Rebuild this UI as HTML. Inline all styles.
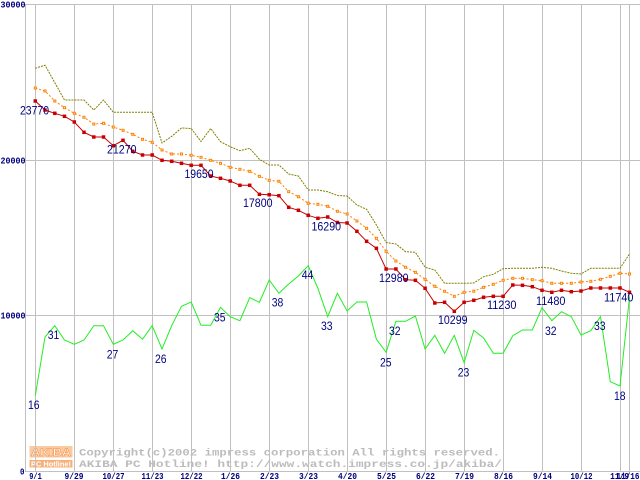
<!DOCTYPE html>
<html><head><meta charset="utf-8"><style>
html,body{margin:0;padding:0;background:#fff;}
svg{display:block;}
</style></head><body>
<svg width="640" height="480" viewBox="0 0 640 480" xmlns="http://www.w3.org/2000/svg">
<defs>
<rect id="rm" x="-1.75" y="-1.75" width="3.5" height="3.5" fill="#c80000"/>
<rect id="om" x="-1" y="-1" width="2" height="2" fill="#fff" stroke="#ff8000" stroke-width="1"/>
</defs>
<rect width="640" height="480" fill="#fff"/>

<!-- logo -->
<rect x="29.5" y="446" width="43" height="11.5" fill="#fccaa0"/>
<text x="31" y="456" font-family="Liberation Sans, sans-serif" font-weight="bold" font-size="11" fill="#fff" stroke="#f5a060" stroke-width="0.7" textLength="40" lengthAdjust="spacingAndGlyphs">AKIBA</text>
<rect x="29.5" y="460" width="43" height="7.5" fill="#f8b07a"/>
<text x="31" y="466.5" font-family="Liberation Sans, sans-serif" font-weight="bold" font-size="7" fill="#fff" textLength="40" lengthAdjust="spacingAndGlyphs">PC Hotline!</text>
<text x="79" y="455.7" font-family="Liberation Mono, monospace" font-weight="bold" font-size="10.5" fill="#bcbcbc" textLength="421" lengthAdjust="spacingAndGlyphs">Copyright(c)2002 impress corporation All rights reserved.</text>
<text x="79" y="467" font-family="Liberation Mono, monospace" font-weight="bold" font-size="10.5" fill="#bcbcbc" textLength="423" lengthAdjust="spacingAndGlyphs">AKIBA PC Hotline!  http://www.watch.impress.co.jp/akiba/</text>

<!-- grid -->
<g stroke="#c0c0c0" stroke-width="1" shape-rendering="crispEdges" fill="none">
<line x1="25" y1="4.5" x2="640" y2="4.5"/>
<line x1="25" y1="160.5" x2="640" y2="160.5"/>
<line x1="25" y1="315.5" x2="640" y2="315.5"/>
<line x1="25" y1="471.5" x2="640" y2="471.5"/>
<line x1="25.5" y1="4" x2="25.5" y2="472"/>
<line x1="35.5" y1="4" x2="35.5" y2="472"/>
<line x1="74.5" y1="4" x2="74.5" y2="472"/>
<line x1="113.5" y1="4" x2="113.5" y2="472"/>
<line x1="152.5" y1="4" x2="152.5" y2="472"/>
<line x1="191.5" y1="4" x2="191.5" y2="472"/>
<line x1="230.5" y1="4" x2="230.5" y2="472"/>
<line x1="269.5" y1="4" x2="269.5" y2="472"/>
<line x1="308.5" y1="4" x2="308.5" y2="472"/>
<line x1="347.5" y1="4" x2="347.5" y2="472"/>
<line x1="386.5" y1="4" x2="386.5" y2="472"/>
<line x1="425.5" y1="4" x2="425.5" y2="472"/>
<line x1="464.5" y1="4" x2="464.5" y2="472"/>
<line x1="503.5" y1="4" x2="503.5" y2="472"/>
<line x1="542.5" y1="4" x2="542.5" y2="472"/>
<line x1="581.5" y1="4" x2="581.5" y2="472"/>
<line x1="620.5" y1="4" x2="620.5" y2="472"/>
<line x1="629.5" y1="4" x2="629.5" y2="472"/>
</g>

<!-- y labels -->
<g font-family="Liberation Mono, monospace" font-weight="bold" font-size="9" fill="#000080">
<text x="0.5" y="7.5" textLength="25" lengthAdjust="spacingAndGlyphs">30000</text>
<text x="0.5" y="163.5" textLength="25" lengthAdjust="spacingAndGlyphs">20000</text>
<text x="0.5" y="318.5" textLength="25" lengthAdjust="spacingAndGlyphs">10000</text>
<text x="20" y="474.5" textLength="4.5" lengthAdjust="spacingAndGlyphs">0</text>
</g>

<!-- x labels -->
<g font-family="Liberation Mono, monospace" font-weight="bold" font-size="9" fill="#000080" text-anchor="middle">
<text x="35.5" y="479" textLength="12.5" lengthAdjust="spacingAndGlyphs">9/1</text>
<text x="74" y="479" textLength="19" lengthAdjust="spacingAndGlyphs">9/29</text>
<text x="113.5" y="479" textLength="22" lengthAdjust="spacingAndGlyphs">10/27</text>
<text x="152.5" y="479" textLength="22" lengthAdjust="spacingAndGlyphs">11/23</text>
<text x="191.5" y="479" textLength="22" lengthAdjust="spacingAndGlyphs">12/22</text>
<text x="230.5" y="479" textLength="19" lengthAdjust="spacingAndGlyphs">1/26</text>
<text x="269.5" y="479" textLength="19" lengthAdjust="spacingAndGlyphs">2/23</text>
<text x="308.5" y="479" textLength="19" lengthAdjust="spacingAndGlyphs">3/23</text>
<text x="347.5" y="479" textLength="19" lengthAdjust="spacingAndGlyphs">4/20</text>
<text x="386.5" y="479" textLength="19" lengthAdjust="spacingAndGlyphs">5/25</text>
<text x="425.5" y="479" textLength="19" lengthAdjust="spacingAndGlyphs">6/22</text>
<text x="464.5" y="479" textLength="19" lengthAdjust="spacingAndGlyphs">7/19</text>
<text x="503.5" y="479" textLength="19" lengthAdjust="spacingAndGlyphs">8/16</text>
<text x="542.5" y="479" textLength="19" lengthAdjust="spacingAndGlyphs">9/14</text>
<text x="581.5" y="479" textLength="22" lengthAdjust="spacingAndGlyphs">10/12</text>
<text x="619.6" y="479" textLength="19" lengthAdjust="spacingAndGlyphs">11/9</text>
<text x="639.5" y="479" text-anchor="end" textLength="23" lengthAdjust="spacingAndGlyphs">11/16</text>
</g>

<!-- series -->
<polyline fill="none" stroke="#22ee22" stroke-width="1" points="35.3,395.7 45,337 54.8,325.7 64.5,340 74.3,344.3 84,340 93.8,325.7 103.5,325.7 113.3,344.3 123,340 132.8,330.7 142.5,339.3 152.2,325.7 162,349 171.7,325.7 181.5,306.3 191.2,302 201,325.3 210.7,325.3 220.5,307.3 230.2,316.7 239.9,320.7 249.7,297.7 259.4,302.3 269.2,280 278.9,293.3 288.7,284 298.4,276 308.2,265.7 317.9,288.3 327.7,316.7 337.4,293.3 347.1,311 356.9,302 366.6,302 376.4,339.3 386.1,352.3 395.9,321.3 405.6,321.3 415.4,316 425.1,349 434.8,335.3 444.6,353.3 454.3,335.3 464.1,362.7 473.8,330.3 483.6,338 493.3,353.3 503.1,353.3 512.8,335.7 522.5,330 532.3,330 542,307.7 551.8,320.7 561.5,311.7 571.3,316.7 581,335 590.8,330.7 600.5,316.7 610.3,381.7 620,386 629.5,297"/>

<polyline fill="none" stroke="#808000" stroke-width="1" stroke-dasharray="2 1" points="35.3,68.3 45,65.2 54.8,82.7 64.5,100 74.3,100 84,100 93.8,110 103.5,100 113.3,112.3 123,112.3 132.8,112.3 142.5,112.3 152.2,112.3 162,143 171.7,136.3 181.5,128 191.2,128.5 201,141.5 210.7,128.5 220.5,141.7 230.2,146.7 239.9,150.7 249.7,148.3 259.4,159.3 269.2,165 278.9,165 288.7,174 298.4,176 308.2,190 317.9,190 327.7,191.7 337.4,195.5 347.1,196 356.9,205 366.6,209.3 376.4,225 386.1,242.5 395.9,244 405.6,251.7 415.4,252.3 425.1,267.3 434.8,270 444.6,283.3 454.3,283.3 464.1,283.3 473.8,283 483.6,276.7 493.3,274.3 503.1,268.7 512.8,268.3 522.5,268.3 532.3,268.3 542,267.3 551.8,268.3 561.5,271 571.3,273.3 581,274 590.8,268.3 600.5,268.3 610.3,268.3 620,268.3 629.5,254"/>

<polyline fill="none" stroke="#ff8000" stroke-width="1" stroke-dasharray="2 2" points="35.3,88 45,91 54.8,101 64.5,107.7 74.3,113.3 84,117.3 93.8,124 103.5,123.3 113.3,127 123,130.3 132.8,134.3 142.5,139.3 152.2,142.3 162,150 171.7,154 181.5,154 191.2,155.3 201,157.3 210.7,160.3 220.5,163.3 230.2,167.3 239.9,169.3 249.7,171.3 259.4,176.3 269.2,180.3 278.9,181.3 288.7,191.7 298.4,196.7 308.2,203.3 317.9,204.3 327.7,206.3 337.4,211.3 347.1,214 356.9,221 366.6,228.3 376.4,238.3 386.1,251.3 395.9,261 405.6,267.3 415.4,272.3 425.1,279.3 434.8,286.3 444.6,291.3 454.3,296.3 464.1,292.3 473.8,291.2 483.6,287.3 493.3,284.3 503.1,280.3 512.8,278.3 522.5,278.3 532.3,279.7 542,280.7 551.8,283.3 561.5,283.3 571.3,283.3 581,282 590.8,281.3 600.5,279.3 610.3,276.3 620,273.3 629.5,274"/>

<polyline fill="none" stroke="#c80000" stroke-width="1" points="35.3,101 45,110 54.8,113.3 64.5,116.3 74.3,122 84,132.3 93.8,137 103.5,137 113.3,145.7 123,140.3 132.8,151.3 142.5,155 152.2,155 162,160.3 171.7,161.3 181.5,163.3 191.2,165.3 201,165.3 210.7,176 220.5,178.3 230.2,181 239.9,185.3 249.7,185.3 259.4,194.3 269.2,194.7 278.9,195.7 288.7,207.3 298.4,210.3 308.2,215.3 317.9,218.3 327.7,217 337.4,222.5 347.1,223 356.9,231.3 366.6,241.3 376.4,248.3 386.1,269 395.9,269 405.6,279.7 415.4,280.3 425.1,288.3 434.8,303 444.6,302.3 454.3,311.3 464.1,302.3 473.8,300.3 483.6,297.3 493.3,296.3 503.1,296.3 512.8,285 522.5,285.3 532.3,286.7 542,290.3 551.8,292.3 561.5,290.3 571.3,291.7 581,291 590.8,288 600.5,288 610.3,288 620,288 629.5,292.3"/>

<!-- orange markers -->
<g>
<use href="#om" x="35.3" y="88"/><use href="#om" x="45" y="91"/><use href="#om" x="54.8" y="101"/><use href="#om" x="64.5" y="107.7"/><use href="#om" x="74.3" y="113.3"/><use href="#om" x="84" y="117.3"/><use href="#om" x="93.8" y="124"/><use href="#om" x="103.5" y="123.3"/><use href="#om" x="113.3" y="127"/><use href="#om" x="123" y="130.3"/><use href="#om" x="132.8" y="134.3"/><use href="#om" x="142.5" y="139.3"/><use href="#om" x="152.2" y="142.3"/><use href="#om" x="162" y="150"/><use href="#om" x="171.7" y="154"/><use href="#om" x="181.5" y="154"/><use href="#om" x="191.2" y="155.3"/><use href="#om" x="201" y="157.3"/><use href="#om" x="210.7" y="160.3"/><use href="#om" x="220.5" y="163.3"/><use href="#om" x="230.2" y="167.3"/><use href="#om" x="239.9" y="169.3"/><use href="#om" x="249.7" y="171.3"/><use href="#om" x="259.4" y="176.3"/><use href="#om" x="269.2" y="180.3"/><use href="#om" x="278.9" y="181.3"/><use href="#om" x="288.7" y="191.7"/><use href="#om" x="298.4" y="196.7"/><use href="#om" x="308.2" y="203.3"/><use href="#om" x="317.9" y="204.3"/><use href="#om" x="327.7" y="206.3"/><use href="#om" x="337.4" y="211.3"/><use href="#om" x="347.1" y="214"/><use href="#om" x="356.9" y="221"/><use href="#om" x="366.6" y="228.3"/><use href="#om" x="376.4" y="238.3"/><use href="#om" x="386.1" y="251.3"/><use href="#om" x="395.9" y="261"/><use href="#om" x="405.6" y="267.3"/><use href="#om" x="415.4" y="272.3"/><use href="#om" x="425.1" y="279.3"/><use href="#om" x="434.8" y="286.3"/><use href="#om" x="444.6" y="291.3"/><use href="#om" x="454.3" y="296.3"/><use href="#om" x="464.1" y="292.3"/><use href="#om" x="473.8" y="291.2"/><use href="#om" x="483.6" y="287.3"/><use href="#om" x="493.3" y="284.3"/><use href="#om" x="503.1" y="280.3"/><use href="#om" x="512.8" y="278.3"/><use href="#om" x="522.5" y="278.3"/><use href="#om" x="532.3" y="279.7"/><use href="#om" x="542" y="280.7"/><use href="#om" x="551.8" y="283.3"/><use href="#om" x="561.5" y="283.3"/><use href="#om" x="571.3" y="283.3"/><use href="#om" x="581" y="282"/><use href="#om" x="590.8" y="281.3"/><use href="#om" x="600.5" y="279.3"/><use href="#om" x="610.3" y="276.3"/><use href="#om" x="620" y="273.3"/><use href="#om" x="629.5" y="274"/>
</g>

<!-- red markers -->
<g>
<use href="#rm" x="35.3" y="101"/><use href="#rm" x="45" y="110"/><use href="#rm" x="54.8" y="113.3"/><use href="#rm" x="64.5" y="116.3"/><use href="#rm" x="74.3" y="122"/><use href="#rm" x="84" y="132.3"/><use href="#rm" x="93.8" y="137"/><use href="#rm" x="103.5" y="137"/><use href="#rm" x="113.3" y="145.7"/><use href="#rm" x="123" y="140.3"/><use href="#rm" x="132.8" y="151.3"/><use href="#rm" x="142.5" y="155"/><use href="#rm" x="152.2" y="155"/><use href="#rm" x="162" y="160.3"/><use href="#rm" x="171.7" y="161.3"/><use href="#rm" x="181.5" y="163.3"/><use href="#rm" x="191.2" y="165.3"/><use href="#rm" x="201" y="165.3"/><use href="#rm" x="210.7" y="176"/><use href="#rm" x="220.5" y="178.3"/><use href="#rm" x="230.2" y="181"/><use href="#rm" x="239.9" y="185.3"/><use href="#rm" x="249.7" y="185.3"/><use href="#rm" x="259.4" y="194.3"/><use href="#rm" x="269.2" y="194.7"/><use href="#rm" x="278.9" y="195.7"/><use href="#rm" x="288.7" y="207.3"/><use href="#rm" x="298.4" y="210.3"/><use href="#rm" x="308.2" y="215.3"/><use href="#rm" x="317.9" y="218.3"/><use href="#rm" x="327.7" y="217"/><use href="#rm" x="337.4" y="222.5"/><use href="#rm" x="347.1" y="223"/><use href="#rm" x="356.9" y="231.3"/><use href="#rm" x="366.6" y="241.3"/><use href="#rm" x="376.4" y="248.3"/><use href="#rm" x="386.1" y="269"/><use href="#rm" x="395.9" y="269"/><use href="#rm" x="405.6" y="279.7"/><use href="#rm" x="415.4" y="280.3"/><use href="#rm" x="425.1" y="288.3"/><use href="#rm" x="434.8" y="303"/><use href="#rm" x="444.6" y="302.3"/><use href="#rm" x="454.3" y="311.3"/><use href="#rm" x="464.1" y="302.3"/><use href="#rm" x="473.8" y="300.3"/><use href="#rm" x="483.6" y="297.3"/><use href="#rm" x="493.3" y="296.3"/><use href="#rm" x="503.1" y="296.3"/><use href="#rm" x="512.8" y="285"/><use href="#rm" x="522.5" y="285.3"/><use href="#rm" x="532.3" y="286.7"/><use href="#rm" x="542" y="290.3"/><use href="#rm" x="551.8" y="292.3"/><use href="#rm" x="561.5" y="290.3"/><use href="#rm" x="571.3" y="291.7"/><use href="#rm" x="581" y="291"/><use href="#rm" x="590.8" y="288"/><use href="#rm" x="600.5" y="288"/><use href="#rm" x="610.3" y="288"/><use href="#rm" x="620" y="288"/><use href="#rm" x="629.5" y="292.3"/>
</g>

<!-- data labels -->
<g font-family="Liberation Sans, sans-serif" font-size="11.5" fill="#000080" lengthAdjust="spacingAndGlyphs">
<text x="20" y="114.5" textLength="29" lengthAdjust="spacingAndGlyphs">23770</text>
<text x="107" y="153.5" textLength="29.5" lengthAdjust="spacingAndGlyphs">21270</text>
<text x="184.5" y="178" textLength="29" lengthAdjust="spacingAndGlyphs">19650</text>
<text x="243" y="207" textLength="29.5" lengthAdjust="spacingAndGlyphs">17800</text>
<text x="311.5" y="230.5" textLength="29.5" lengthAdjust="spacingAndGlyphs">16290</text>
<text x="379" y="282" textLength="29.5" lengthAdjust="spacingAndGlyphs">12980</text>
<text x="438" y="324" textLength="29.5" lengthAdjust="spacingAndGlyphs">10299</text>
<text x="487" y="309" textLength="29.5" lengthAdjust="spacingAndGlyphs">11230</text>
<text x="536" y="305" textLength="29.5" lengthAdjust="spacingAndGlyphs">11480</text>
<text x="604" y="301.5" textLength="29.5" lengthAdjust="spacingAndGlyphs">11740</text>
<text x="28" y="409" textLength="11.6" lengthAdjust="spacingAndGlyphs">16</text>
<text x="47.7" y="339" textLength="11.6" lengthAdjust="spacingAndGlyphs">31</text>
<text x="106.7" y="358.3" textLength="11.6" lengthAdjust="spacingAndGlyphs">27</text>
<text x="155" y="363" textLength="11.6" lengthAdjust="spacingAndGlyphs">26</text>
<text x="214" y="321.3" textLength="11.6" lengthAdjust="spacingAndGlyphs">35</text>
<text x="271.7" y="306.7" textLength="11.6" lengthAdjust="spacingAndGlyphs">38</text>
<text x="301.7" y="279" textLength="11.6" lengthAdjust="spacingAndGlyphs">44</text>
<text x="321" y="330" textLength="11.6" lengthAdjust="spacingAndGlyphs">33</text>
<text x="380" y="366.7" textLength="11.6" lengthAdjust="spacingAndGlyphs">25</text>
<text x="389" y="335" textLength="11.6" lengthAdjust="spacingAndGlyphs">32</text>
<text x="457.7" y="376.7" textLength="11.6" lengthAdjust="spacingAndGlyphs">23</text>
<text x="545" y="335" textLength="11.6" lengthAdjust="spacingAndGlyphs">32</text>
<text x="594" y="330" textLength="11.6" lengthAdjust="spacingAndGlyphs">33</text>
<text x="614" y="400" textLength="11.6" lengthAdjust="spacingAndGlyphs">18</text>
</g>
</svg>
</body></html>
